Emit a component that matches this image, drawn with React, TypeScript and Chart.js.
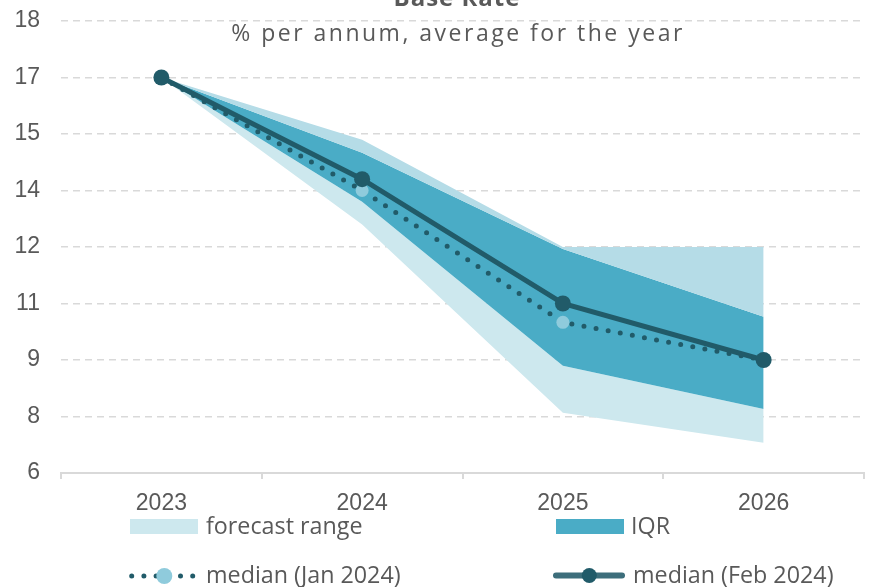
import React, { useEffect, useRef } from "react";
import { Chart, registerables } from "chart.js";

Chart.register(...registerables);

const categories = ["2023", "2024", "2025", "2026"];
const rangeUpper = [16.5, 14.85, 12.0, 12.0];
const iqrUpper = [16.5, 14.5, 11.95, 10.15];
const iqrLower = [16.5, 13.2, 8.85, 7.7];
const rangeLower = [16.5, 12.6, 7.6, 6.8];
const medianJan = [16.5, 13.5, 10.0, 9.0];
const medianFeb = [16.5, 13.8, 10.5, 9.0];
const yTickValues = [6, 7.5, 9, 10.5, 12, 13.5, 15, 16.5, 18];
const yTickLabels = ["6", "8", "9", "11", "12", "14", "15", "17", "18"];
const titleText = "Base Rate";
const subtitleText = "% per annum, average for the year";
const legendLabels = ["forecast range", "IQR", "median (Jan 2024)", "median (Feb 2024)"];

const upperLight = "#b5dce7";
const lowerLight = "#cde8ee";
const iqrColor = "#4aacc6";
const dark = "#215b69";
const legendLine = "#3d6e7b";
const lightPoint = "#8fcbdc";
const textColor = "#595959";
const gridColor = "#d9d9d9";

const overlayPlugin = {
  id: "overlay",
  afterDraw(chart: any) {
    const ctx = chart.ctx as CanvasRenderingContext2D;
    ctx.save();
    ctx.fillStyle = textColor;
    ctx.textBaseline = "alphabetic";
    ctx.textAlign = "center";
    ctx.font = "bold 24px 'Open Sans'";
    (ctx as any).letterSpacing = "1px";
    ctx.fillText(titleText, 457, 6);
    ctx.font = "23px 'Open Sans'";
    (ctx as any).letterSpacing = "2.5px";
    ctx.fillText(subtitleText, 458, 41);

    (ctx as any).letterSpacing = "0px";
    ctx.textAlign = "left";
    ctx.font = "23.3px 'Open Sans'";
    // row 1
    ctx.fillStyle = lowerLight;
    ctx.fillRect(130, 519, 68, 15);
    ctx.fillStyle = textColor;
    ctx.fillText(legendLabels[0], 206, 534);
    ctx.fillStyle = iqrColor;
    ctx.fillRect(556, 519, 68, 15);
    ctx.fillStyle = textColor;
    ctx.fillText(legendLabels[1], 631, 534);

    // row 2 - Jan dotted
    ctx.strokeStyle = dark;
    ctx.lineWidth = 5;
    ctx.lineCap = "round";
    ctx.setLineDash([0, 12.2]);
    ctx.beginPath();
    ctx.moveTo(131.7, 576);
    ctx.lineTo(193.2, 576);
    ctx.stroke();
    ctx.setLineDash([]);
    ctx.fillStyle = lightPoint;
    ctx.beginPath();
    ctx.arc(164.3, 576, 8, 0, Math.PI * 2);
    ctx.fill();
    ctx.fillStyle = textColor;
    ctx.fillText(legendLabels[2], 206, 583);

    // row 2 - Feb solid
    ctx.strokeStyle = legendLine;
    ctx.lineWidth = 6;
    ctx.beginPath();
    ctx.moveTo(556, 575.5);
    ctx.lineTo(622, 575.5);
    ctx.stroke();
    ctx.fillStyle = dark;
    ctx.beginPath();
    ctx.arc(589.3, 575.5, 7.5, 0, Math.PI * 2);
    ctx.fill();
    ctx.fillStyle = textColor;
    ctx.fillText(legendLabels[3], 633, 583);
    ctx.restore();
  },
};

export default function App() {
  const canvasRef = useRef<HTMLCanvasElement | null>(null);

  useEffect(() => {
    if (!canvasRef.current) return;
    const band = (data: number[], target: number | false, color: string, order: number) => ({
      data,
      borderWidth: 0,
      borderColor: color,
      backgroundColor: color,
      pointRadius: 0,
      pointHoverRadius: 0,
      fill: target === false ? false : { target },
      order,
      tension: 0,
    });
    const chart = new Chart(canvasRef.current, {
      type: "line",
      data: {
        labels: categories,
        datasets: [
          { label: "rangeUpper", ...band(rangeUpper, 1, upperLight, 10) },
          { label: "iqrUpper", ...band(iqrUpper, 2, iqrColor, 11) },
          { label: "iqrLower", ...band(iqrLower, 3, lowerLight, 12) },
          { label: "rangeLower", ...band(rangeLower, false, lowerLight, 13) },
          {
            label: legendLabels[2],
            data: medianJan,
            borderColor: dark,
            borderWidth: 5,
            borderDash: [0, 12.3],
            borderCapStyle: "round",
            pointRadius: 6.5,
            pointHoverRadius: 6.5,
            pointBackgroundColor: lightPoint,
            pointBorderWidth: 0,
            fill: false,
            order: 1,
            tension: 0,
          },
          {
            label: legendLabels[3],
            data: medianFeb,
            borderColor: dark,
            borderWidth: 5,
            pointRadius: 8,
            pointHoverRadius: 8,
            pointBackgroundColor: dark,
            pointBorderWidth: 0,
            fill: false,
            order: 0,
            tension: 0,
          },
        ] as any,
      },
      options: {
        animation: false,
        responsive: true,
        maintainAspectRatio: false,
        layout: { padding: { left: 0, right: 11, top: 21, bottom: 0 } },
        plugins: {
          legend: { display: false },
          title: { display: false },
          tooltip: { enabled: false },
        },
        scales: {
          x: {
            offset: true,
            grid: {
              offset: true,
              drawOnChartArea: false,
              drawTicks: true,
              tickLength: 6,
              color: gridColor,
              lineWidth: 2,
            },
            border: { display: true, color: gridColor, width: 2 },
            ticks: {
              color: textColor,
              font: { family: "'Liberation Sans', Arial", size: 23 },
              padding: 11,
              maxRotation: 0,
              autoSkip: false,
            },
            afterFit: (s: any) => {
              s.height = 114;
            },
          },
          y: {
            min: 6,
            max: 18,
            afterBuildTicks: (s: any) => {
              s.ticks = yTickValues.map((v) => ({ value: v }));
            },
            ticks: {
              color: textColor,
              font: { family: "'Liberation Sans', Arial", size: 23 },
              padding: 7,
              callback: (value: any) => {
                const i = yTickValues.indexOf(Number(value));
                return i >= 0 ? yTickLabels[i] : "";
              },
            },
            grid: {
              drawTicks: true,
              tickLength: 14,
              tickColor: "rgba(0,0,0,0)",
              color: gridColor,
              lineWidth: 1.5,
            },
            border: { display: false, dash: [7, 5] },
            afterFit: (s: any) => {
              s.width = 61;
            },
          },
        },
      } as any,
      plugins: [overlayPlugin],
    });
    return () => chart.destroy();
  }, []);

  return (
    <div style={{ position: "fixed", left: 0, top: 0, width: 875, height: 587 }}>
      <canvas ref={canvasRef} />
    </div>
  );
}
